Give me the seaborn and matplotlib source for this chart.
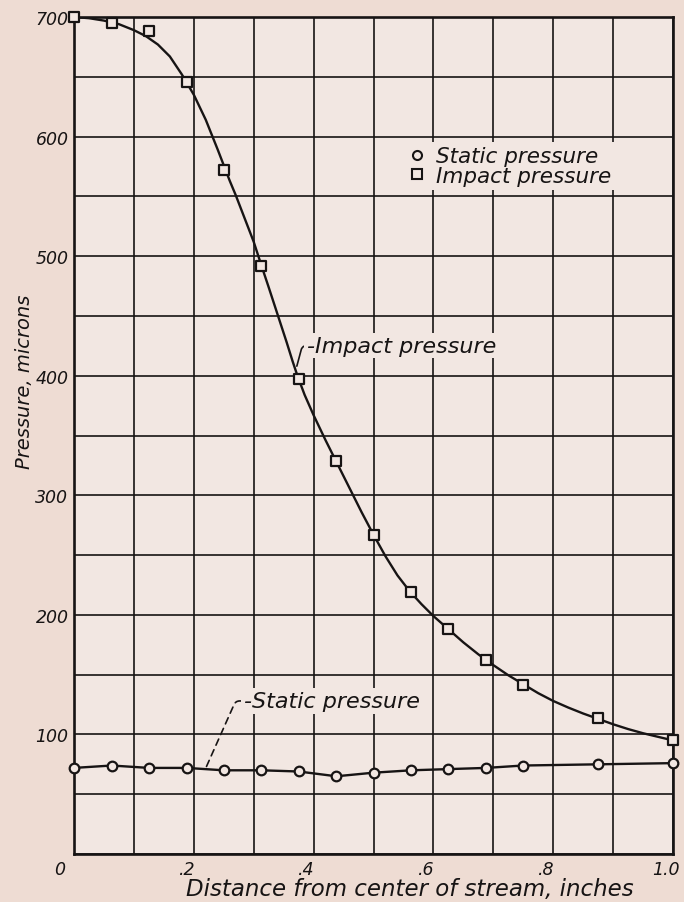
import numpy as np
import pandas as pd
import matplotlib
matplotlib.use("Agg")
import matplotlib.pyplot as plt
import matplotlib.transforms as mtransforms
from matplotlib.lines import Line2D
import seaborn as sns

# ---------------- data ----------------
distance = [0.0, 0.063, 0.125, 0.188, 0.25, 0.313, 0.375, 0.438, 0.5,
            0.563, 0.625, 0.688, 0.75, 0.875, 1.0]
impact_pressure = [700, 695, 688, 646, 572, 492, 397, 329, 267,
                   219, 188, 162, 141, 114, 95]
static_pressure = [72, 74, 72, 72, 70, 70, 69, 65, 68,
                   70, 71, 72, 74, 75, 76]

# faired impact-pressure curve
impact_curve_x = [0.0, 0.025, 0.05, 0.075, 0.1, 0.12, 0.14, 0.16, 0.18, 0.2,
                  0.22, 0.24, 0.25, 0.26, 0.27, 0.28, 0.29, 0.3, 0.313, 0.325,
                  0.34, 0.355, 0.365, 0.373, 0.385, 0.4, 0.42, 0.44, 0.46,
                  0.48, 0.5, 0.52, 0.54, 0.56, 0.58, 0.6, 0.625, 0.65, 0.675,
                  0.7, 0.725, 0.75, 0.775, 0.8, 0.825, 0.85, 0.875, 0.9,
                  0.925, 0.95, 0.975, 1.0]
impact_curve_y = [700, 699, 697, 694, 689, 684, 677, 667, 652, 635,
                  614, 589, 576, 563, 551, 538, 525, 512, 492, 474,
                  451, 428, 412, 400, 384, 367, 346, 326, 306,
                  286, 267, 249, 233, 220, 209, 199, 188, 177, 167,
                  158, 149.5, 142, 134.5, 128, 122.5, 117.5, 113, 108.5,
                  104.5, 101, 98, 95]

x_tick_values = [0.0, 0.2, 0.4, 0.6, 0.8, 1.0]
x_tick_labels = ["0", ".2", ".4", ".6", ".8", "1.0"]
y_tick_values = [100, 200, 300, 400, 500, 600, 700]
y_tick_labels = ["100", "200", "300", "400", "500", "600", "700"]

legend_labels = ["Static pressure", "Impact pressure"]
x_label = "Distance from center of stream, inches"
y_label = "Pressure, microns"

# ---------------- style ----------------
FIG_BG = "#EEDCD3"
AX_BG = "#F2E7E2"
INK = "#171414"

sns.set_theme(style="white")
plt.rcParams["font.family"] = ["DejaVu Sans"]
plt.rcParams["font.style"] = "italic"

fig = plt.figure(figsize=(6.84, 9.03), dpi=100, facecolor=FIG_BG)
ax = fig.add_axes([74 / 684, 1 - 855 / 903, 599 / 684, 837 / 903])
ax.set_facecolor(AX_BG)

df_pts = pd.DataFrame({"distance": distance,
                       "impact": impact_pressure,
                       "static": static_pressure})
df_curve = pd.DataFrame({"x": impact_curve_x, "y": impact_curve_y})

# curves
sns.lineplot(data=df_curve, x="x", y="y", ax=ax, color=INK, lw=1.7,
             sort=False, estimator=None, zorder=3)
sns.lineplot(data=df_pts, x="distance", y="static", ax=ax, color=INK, lw=1.7,
             sort=False, estimator=None, zorder=3)

# points
sns.scatterplot(data=df_pts, x="distance", y="static", ax=ax, marker="o",
                s=48, facecolor=AX_BG, edgecolor=INK, linewidth=1.6,
                zorder=4, clip_on=False)
sns.scatterplot(data=df_pts, x="distance", y="impact", ax=ax, marker="s",
                s=48, facecolor=AX_BG, edgecolor=INK, linewidth=1.6,
                zorder=4, clip_on=False)

# axes, grid
ax.set_xlim(0, 1.0)
ax.set_ylim(0, 700)
ax.set_xticks(x_tick_values)
ax.set_xticklabels(x_tick_labels)
ax.set_xticks(np.arange(0, 1.001, 0.1), minor=True)
ax.set_yticks(y_tick_values)
ax.set_yticklabels(y_tick_labels)
ax.set_yticks(np.arange(0, 701, 50), minor=True)
ax.set_axisbelow(True)
ax.grid(which="both", color=INK, lw=1.2)
ax.tick_params(which="both", length=0)
ax.tick_params(axis="x", pad=4, labelsize=12.5, colors=INK)
ax.tick_params(axis="y", pad=4, labelsize=12.5, colors=INK)
for sp in ax.spines.values():
    sp.set_visible(True)
    sp.set_color(INK)
    sp.set_linewidth(1.9)

for i, lab in enumerate(ax.get_xticklabels()):
    dx = -14 if i == 0 else -7
    lab.set_transform(lab.get_transform() +
                      mtransforms.ScaledTranslation(dx / 100, 0, fig.dpi_scale_trans))

ax.set_xlabel(x_label, fontsize=16.5, color=INK)
ax.set_ylabel(y_label, fontsize=14, color=INK)
ax.xaxis.label.set_va("center")
ax.yaxis.label.set_va("center")
ax.xaxis.set_label_coords(0.561, -0.041)
ax.yaxis.set_label_coords(-0.083, 0.565)

# legend
handles = [
    Line2D([], [], ls="none", marker="o", ms=6.5, mfc=AX_BG, mec=INK, mew=1.5),
    Line2D([], [], ls="none", marker="s", ms=6.5, mfc=AX_BG, mec=INK, mew=1.5),
]
leg = ax.legend(handles, legend_labels, loc="upper left",
                bbox_to_anchor=(0.55, 0.8505), fontsize=15.5, frameon=True,
                facecolor=AX_BG, edgecolor="none", framealpha=1,
                handlelength=0.9, handletextpad=0.4, labelspacing=-0.03,
                borderpad=0.2, borderaxespad=0, fancybox=False)
leg.set_zorder(6)
for t in leg.get_texts():
    t.set_color(INK)

# annotations with leaders
ax.annotate("-Impact pressure", xy=(0.372, 408), xytext=(0.389, 425),
            ha="left", va="center", fontsize=16, color=INK, zorder=5,
            bbox=dict(boxstyle="square,pad=0.12", fc=AX_BG, ec="none"),
            arrowprops=dict(arrowstyle="-", color=INK, lw=1.2, shrinkA=0,
                            shrinkB=0, relpos=(0, 0.5),
                            connectionstyle="angle,angleA=0,angleB=75,rad=4"))
ax.annotate("-Static pressure", xy=(0.221, 73), xytext=(0.284, 128),
            ha="left", va="center", fontsize=16, color=INK, zorder=5,
            bbox=dict(boxstyle="square,pad=0.12", fc=AX_BG, ec="none"),
            arrowprops=dict(arrowstyle="-", color=INK, lw=1.2, shrinkA=0,
                            shrinkB=0, relpos=(0, 0.5), linestyle=(0, (4, 3)),
                            connectionstyle="angle,angleA=0,angleB=66,rad=4"))

fig.savefig("out.png", dpi=100, facecolor=FIG_BG)
